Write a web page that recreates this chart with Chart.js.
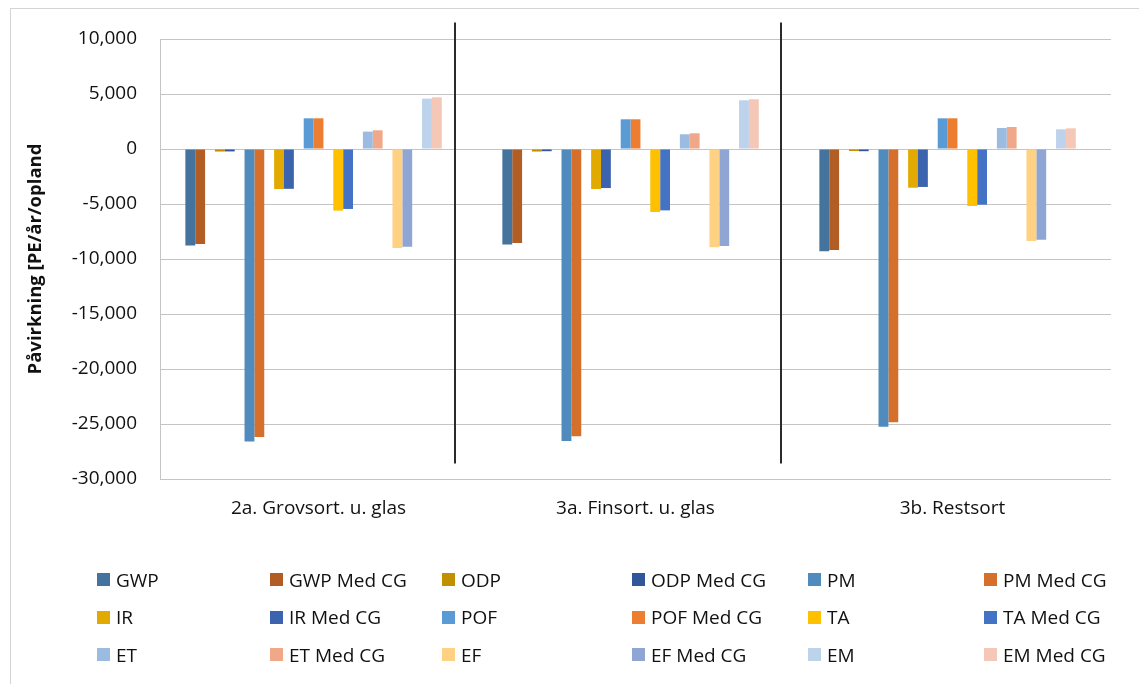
<!DOCTYPE html>
<html>
<head>
<meta charset="utf-8">
<script src="https://cdn.jsdelivr.net/npm/chart.js@4.4.1/dist/chart.umd.min.js"></script>
<style>
  html, body { margin: 0; padding: 0; background: #fff; }
  body { width: 1139px; height: 684px; overflow: hidden; position: relative; font-family: 'Open Sans', sans-serif; }
  #frame { position: absolute; left: 10px; top: 8px; width: 1300px; height: 900px; border: 1px solid #d4d4d4; }
  #chart { position: absolute; left: 0; top: 0; }
  #legend {
    position: absolute; left: 97px; top: 561px;
    display: grid;
    grid-template-columns: 173px 172px 190px 176px 176px 150px;
    grid-auto-rows: 37.5px;
    font-size: 19px; color: #111;
  }
  .item { display: flex; align-items: center; white-space: nowrap; }
  .box { width: 13px; height: 13px; margin-right: 6px; flex: none; }
</style>
</head>
<body>
<div id="frame"></div>
<canvas id="chart" width="1139" height="684"></canvas>
<div id="legend"></div>
<script>
// categories on the x axis
const categories = ['2a. Grovsort. u. glas', '3a. Finsort. u. glas', '3b. Restsort'];

// values per indicator, PE/år/opland (without / with CG)
const GWP    = [-8780, -8690, -9300];
const GWP_CG = [-8640, -8550, -9180];
const ODP    = [-230, -230, -180];
const ODP_CG = [-220, -200, -200];
const PM     = [-26600, -26550, -25250];
const PM_CG  = [-26180, -26120, -24850];
const IR     = [-3640, -3640, -3520];
const IR_CG  = [-3620, -3550, -3450];
const POF    = [2790, 2700, 2790];
const POF_CG = [2790, 2700, 2790];
const TA     = [-5600, -5730, -5180];
const TA_CG  = [-5450, -5580, -5060];
const ET     = [1580, 1340, 1910];
const ET_CG  = [1700, 1430, 2000];
const EF     = [-9000, -8940, -8360];
const EF_CG  = [-8880, -8820, -8250];
const EM     = [4580, 4430, 1790];
const EM_CG  = [4700, 4520, 1880];

const yTicks = { min: -30000, max: 10000, step: 5000 };

// pairs: [name, values, colour] for base and "Med CG"
const pairs = [
  [['GWP', GWP, '#44739e'], ['GWP Med CG', GWP_CG, '#b25d23']],
  [['ODP', ODP, '#c09000'], ['ODP Med CG', ODP_CG, '#32569a']],
  [['PM', PM, '#508bbe'], ['PM Med CG', PM_CG, '#d46f2c']],
  [['IR', IR, '#e2aa00'], ['IR Med CG', IR_CG, '#3c63ad']],
  [['POF', POF, '#5b9bd5'], ['POF Med CG', POF_CG, '#ed7d31']],
  [['TA', TA, '#ffc000'], ['TA Med CG', TA_CG, '#4472c4']],
  [['ET', ET, '#9bbbe1'], ['ET Med CG', ET_CG, '#f1a888']],
  [['EF', EF, '#ffd283'], ['EF Med CG', EF_CG, '#8fa5d4']],
  [['EM', EM, '#bdd2eb'], ['EM Med CG', EM_CG, '#f5c7b7']]
];

// separators between the scenario groups (category index units)
const separators = [0.43, 1.46];

const datasets = [];
pairs.forEach(pair => {
  pair.forEach(([name, vals, col]) => {
    datasets.push({ label: name, data: vals, backgroundColor: col, borderWidth: 0 });
  });
  // empty slot after each pair, gives the gap between pairs
  datasets.push({ label: '', data: categories.map(() => null), spacer: true });
});

const separatorPlugin = {
  id: 'separators',
  afterDatasetsDraw(chart) {
    const { ctx, scales: { x, y } } = chart;
    ctx.save();
    ctx.strokeStyle = '#2b2b2b';
    ctx.lineWidth = 2;
    separators.forEach(v => {
      const px = Math.round(x.getPixelForValue(v));
      ctx.beginPath();
      ctx.moveTo(px, y.getPixelForValue(11500));
      ctx.lineTo(px, y.getPixelForValue(-28600));
      ctx.stroke();
    });
    ctx.restore();
  }
};

const font = { family: "'Open Sans', sans-serif", size: 19 };

new Chart(document.getElementById('chart'), {
  type: 'bar',
  data: { labels: categories, datasets },
  plugins: [separatorPlugin],
  options: {
    responsive: false,
    animation: false,
    locale: 'en-US',
    layout: { padding: { left: 19, right: 28, top: 39, bottom: 160 } },
    datasets: { bar: { categoryPercentage: 0.84, barPercentage: 1.0 } },
    plugins: {
      legend: { display: false },
      tooltip: { filter: item => !item.dataset.spacer }
    },
    scales: {
      x: {
        grid: { display: false, drawTicks: false },
        border: { display: false },
        ticks: { font, color: '#111', padding: 18 },
        afterFit: s => { s.height = 45; }
      },
      y: {
        min: yTicks.min,
        max: yTicks.max,
        ticks: { stepSize: yTicks.step, font, color: '#111', padding: 23 },
        grid: { color: '#c4c4c4', lineWidth: 1, drawTicks: false },
        border: { display: true, color: '#c4c4c4' },
        title: {
          display: true,
          text: 'Påvirkning [PE/år/opland',
          font: { family: "'Open Sans', sans-serif", size: 18.5, weight: 'bold' },
          color: '#111',
          padding: { top: 6, bottom: 0 }
        },
        afterFit: s => { s.width = 141; }
      }
    }
  }
});

// legend in six columns, same order as the reference
const legend = document.getElementById('legend');
pairs.flat().forEach(([name, , col]) => {
  const item = document.createElement('div');
  item.className = 'item';
  const box = document.createElement('span');
  box.className = 'box';
  box.style.background = col;
  item.appendChild(box);
  item.appendChild(document.createTextNode(name));
  legend.appendChild(item);
});
</script>
</body>
</html>
